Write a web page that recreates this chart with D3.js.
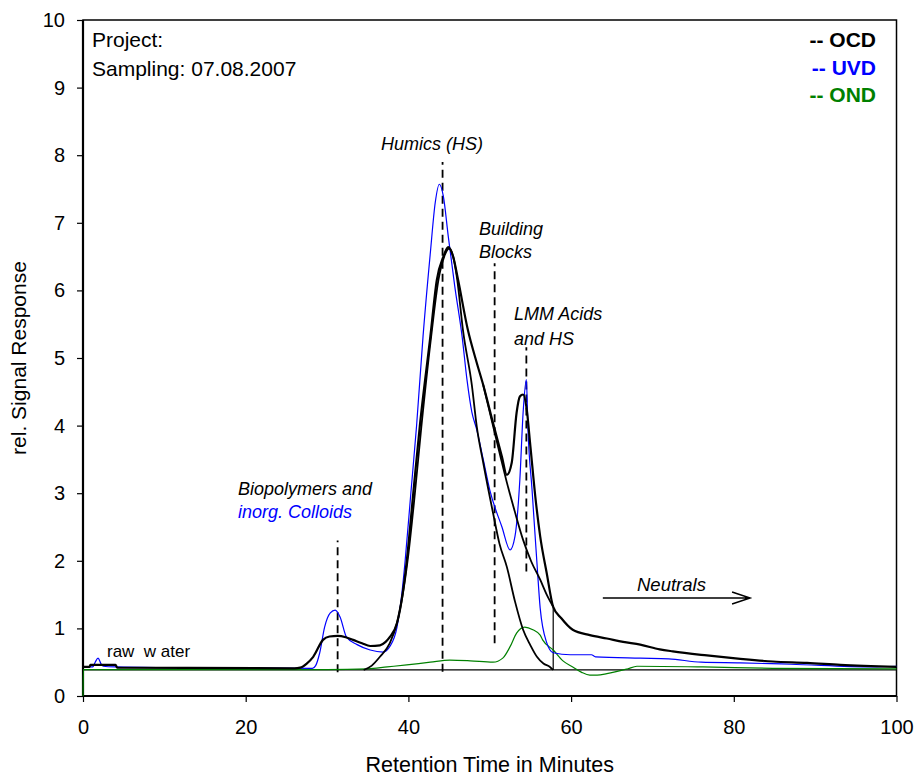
<!DOCTYPE html>
<html lang="en">

<head>
    <meta charset="UTF-8" />
    <title>LC-OCD chromatogram</title>
    <style>
        body { margin: 0; background: #fff; }
        svg { font-family: "Liberation Sans", Arial, sans-serif; }
        .tick text { font-size: 20px; fill: #000; }
    </style>
</head>

<body>
    <div id="container"></div>
</body>
<script src="https://cdnjs.cloudflare.com/ajax/libs/d3/7.8.5/d3.min.js"></script>
<script>
    // retention time [min], rel. signal
    let ocd = [[0, 0.43], [0.8, 0.43], [0.9, 0.46], [4, 0.46], [4.2, 0.42], [26, 0.41], [26.7, 0.42], [27.5, 0.48],
        [28.3, 0.58], [29.5, 0.83], [30.3, 0.88], [31.3, 0.89], [32.3, 0.87], [33.2, 0.83], [34.3, 0.78], [35.3, 0.74],
        [36.5, 0.75], [37.2, 0.8], [37.7, 0.87], [38.6, 1.08], [39.3, 1.52], [39.8, 2.0], [40.6, 3.0], [41.4, 3.99],
        [42.7, 5.32], [43.5, 6.16], [44.3, 6.5], [44.9, 6.64], [45.5, 6.5], [46.1, 6.16], [47.3, 5.42], [48.4, 4.93],
        [49.2, 4.6], [50.4, 4.04], [51.5, 3.54], [52.1, 3.27], [52.7, 3.45], [53.3, 4.19], [53.7, 4.43], [54.1, 4.46],
        [54.5, 4.28], [55.0, 3.69], [55.6, 2.95], [56.2, 2.36], [57.0, 1.82], [57.8, 1.32], [58.8, 1.15], [60.2, 0.98],
        [62.3, 0.9], [64.4, 0.85], [66.4, 0.8], [68.5, 0.76], [70.9, 0.69], [72.5, 0.66], [76.7, 0.6], [80.8, 0.55],
        [84.8, 0.51], [89, 0.49], [93.1, 0.46], [100, 0.43]];
    // humic peak fit
    let ocdHumics = [[34.5, 0.385], [35.5, 0.45], [36.5, 0.58], [37.7, 0.78], [38.6, 1.08], [39.3, 1.5], [40, 2.1],
        [40.8, 3.0], [41.6, 3.99], [42.8, 5.32], [43.7, 6.16], [44.4, 6.5], [45.0, 6.62], [45.5, 6.5], [46.0, 6.16],
        [46.7, 5.42], [47.8, 4.6], [48.4, 3.99], [49.2, 3.45], [50.4, 2.71], [51.2, 2.25], [52.1, 1.91], [53.1, 1.4],
        [54.1, 0.98], [55.0, 0.75], [55.8, 0.58], [56.6, 0.48], [57.4, 0.43], [57.8, 0.385]];
    // building blocks fit below the LMM peak
    let ocdBlocks = [[49.2, 4.6], [49.8, 4.3], [50.5, 3.95], [51.3, 3.55], [52.1, 3.16], [53.1, 2.72], [54.1, 2.31],
        [55.1, 1.99], [56.2, 1.72], [57.0, 1.5], [57.8, 1.32]];
    let uvd = [[0, 0.43], [1.2, 0.43], [1.5, 0.5], [1.85, 0.56], [2.2, 0.48], [2.5, 0.44], [4, 0.43], [10, 0.42],
        [28.2, 0.41], [28.6, 0.45], [29.1, 0.64], [29.7, 1.02], [30.4, 1.23], [31.0, 1.27], [31.6, 1.17], [32.4, 0.87],
        [33.7, 0.76], [35.3, 0.68], [36.9, 0.65], [37.7, 0.73], [38.6, 1.02], [39.2, 1.52], [39.6, 2.0], [40.3, 3.0],
        [41.0, 3.99], [41.8, 5.32], [42.7, 6.56], [43.3, 7.3], [43.8, 7.57], [44.3, 7.39], [44.9, 6.8], [45.7, 6.06],
        [46.6, 5.32], [47.2, 4.68], [47.8, 4.2], [48.4, 3.94], [49.2, 3.5], [50.0, 3.05], [51.5, 2.5], [52.5, 2.16],
        [53.1, 2.36], [53.7, 3.2], [54.1, 4.19], [54.5, 4.68], [54.7, 3.94], [55.2, 3.05], [55.8, 1.97], [56.2, 1.3],
        [57.0, 0.79], [57.8, 0.64], [59.9, 0.61], [62.5, 0.61], [63, 0.58], [68.5, 0.56], [72, 0.55], [76, 0.5],
        [80.8, 0.49], [87, 0.47], [97, 0.43], [100, 0.44]];
    let ond = [[0, 0], [0.05, 0.39], [30, 0.39], [35, 0.4], [37.4, 0.43], [39.8, 0.46], [42.7, 0.5], [45.1, 0.53],
        [47.6, 0.52], [50.4, 0.5], [51.6, 0.56], [52.5, 0.73], [53.3, 0.93], [54.3, 1.02], [55.3, 0.98], [56.2, 0.9],
        [56.5, 0.83], [57.8, 0.68], [59, 0.52], [60.2, 0.43], [61.3, 0.35], [62.3, 0.31], [63.2, 0.31], [64.4, 0.33],
        [66.9, 0.4], [68.1, 0.44], [76.2, 0.43], [84.8, 0.41], [100, 0.4]];

    let baseline = 0.385;
    let xTicks = [0, 20, 40, 60, 80, 100],
        yTicks = [0, 1, 2, 3, 4, 5, 6, 7, 8, 9, 10];

    // fraction markers: time, from, to
    let fractions = [[31.3, 0.35, 2.3], [44.2, 0.36, 7.9], [50.6, 0.78, 6.4], [54.5, 1.84, 5.16]];
    let cutOff = [57.8, baseline, 1.34];
    let neutralsArrow = [63.9, 82.0, 1.45];

    let svg_width = 914, svg_height = 778,
        m = { left: 83, right: 17.5, top: 20, bottom: 82 },
        w = svg_width - m.left - m.right,
        h = svg_height - m.top - m.bottom;

    let x = d3.scaleLinear().domain([0, 100]).range([0, w]);
    let y = d3.scaleLinear().domain([0, 10]).range([h, 0]);

    let svg = d3.select("#container").append("svg").attr("width", svg_width).attr("height", svg_height);
    let g = svg.append("g").attr("transform", `translate(${m.left},${m.top})`);

    // axes
    let xa = g.append("g").attr("transform", `translate(0,${h})`)
        .call(d3.axisBottom(x).tickValues(xTicks).tickSize(6).tickPadding(17.5));
    let ya = g.append("g")
        .call(d3.axisLeft(y).tickValues(yTicks).tickSize(6).tickPadding(12));
    [xa, ya].forEach(a => {
        a.select(".domain").remove();
        a.selectAll(".tick line").attr("stroke", "#000").attr("stroke-width", 1.2);
        a.selectAll(".tick text").attr("font-family", null).attr("font-size", null);
    });

    // frame
    g.append("rect").attr("width", w).attr("height", h).attr("fill", "none")
        .attr("stroke", "#000").attr("stroke-width", 1.5);
    g.append("path").attr("d", `M0,0V${h}H${w}`).attr("fill", "none")
        .attr("stroke", "#000").attr("stroke-width", 2.2);

    let line = d3.line().x(d => x(d[0])).y(d => y(d[1])).curve(d3.curveMonotoneX);

    // baseline
    g.append("line").attr("x1", x(0)).attr("x2", x(100)).attr("y1", y(baseline)).attr("y2", y(baseline))
        .attr("stroke", "#000").attr("stroke-width", 1.2);

    // fraction markers
    g.selectAll(".frac").data(fractions).enter().append("line")
        .attr("x1", d => x(d[0])).attr("x2", d => x(d[0]))
        .attr("y1", d => y(d[1])).attr("y2", d => y(d[2]))
        .attr("stroke", "#000").attr("stroke-width", 1.8).attr("stroke-dasharray", "8,5");
    g.append("line").attr("x1", x(cutOff[0])).attr("x2", x(cutOff[0]))
        .attr("y1", y(cutOff[1])).attr("y2", y(cutOff[2]))
        .attr("stroke", "#000").attr("stroke-width", 1.2);

    g.append("path").datum(ond).attr("d", line).attr("fill", "none").attr("stroke", "#008000").attr("stroke-width", 1.2);
    g.append("path").datum(uvd).attr("d", line).attr("fill", "none").attr("stroke", "#0000ff").attr("stroke-width", 1.2);
    g.append("path").datum(ocdHumics).attr("d", line).attr("fill", "none").attr("stroke", "#000").attr("stroke-width", 1.8);
    g.append("path").datum(ocdBlocks).attr("d", line).attr("fill", "none").attr("stroke", "#000").attr("stroke-width", 1.8);
    g.append("path").datum(ocd).attr("d", line).attr("fill", "none").attr("stroke", "#000").attr("stroke-width", 2.2);

    // neutrals arrow
    let ax1 = x(neutralsArrow[0]), ax2 = x(neutralsArrow[1]), ay = y(neutralsArrow[2]);
    g.append("path").attr("d", `M${ax1},${ay}H${ax2}M${ax2 - 18},${ay - 6}L${ax2},${ay}L${ax2 - 18},${ay + 6}`)
        .attr("fill", "none").attr("stroke", "#000").attr("stroke-width", 1.5);

    // texts (svg coords)
    let txt = (s, tx, ty, opts = {}) => svg.append("text").attr("x", tx).attr("y", ty).text(s)
        .attr("font-size", opts.size || 18).attr("font-style", opts.italic ? "italic" : null)
        .attr("font-weight", opts.bold ? "bold" : null).attr("fill", opts.color || "#000")
        .attr("text-anchor", opts.anchor || "start").style("white-space", "pre");

    txt("Project:", 92, 47, { size: 21 });
    txt("Sampling: 07.08.2007", 92, 76, { size: 21 });
    txt("-- OCD", 876, 47, { size: 21, bold: true, anchor: "end" });
    txt("-- UVD", 876, 75, { size: 21, bold: true, anchor: "end", color: "#0000ff" });
    txt("-- OND", 876, 102, { size: 21, bold: true, anchor: "end", color: "#008000" });

    txt("Humics (HS)", 381, 150, { italic: true });
    txt("Building", 479, 235, { italic: true });
    txt("Blocks", 479, 258, { italic: true });
    txt("LMM Acids", 514, 320, { italic: true });
    txt("and HS", 514, 345, { italic: true });
    txt("Biopolymers and", 238, 495, { italic: true });
    txt("inorg. Colloids", 238, 518, { italic: true, color: "#0000ff" });
    txt("Neutrals", 637, 591, { italic: true, size: 18.5 });
    txt("raw  w ater", 107, 657, { size: 17 });

    txt("Retention Time in Minutes", m.left + w / 2, 772, { size: 21.5, anchor: "middle" });
    svg.append("text").attr("transform", `translate(26,${m.top + h / 2}) rotate(-90)`)
        .attr("text-anchor", "middle").attr("font-size", 21).text("rel. Signal Response");
</script>

</html>
